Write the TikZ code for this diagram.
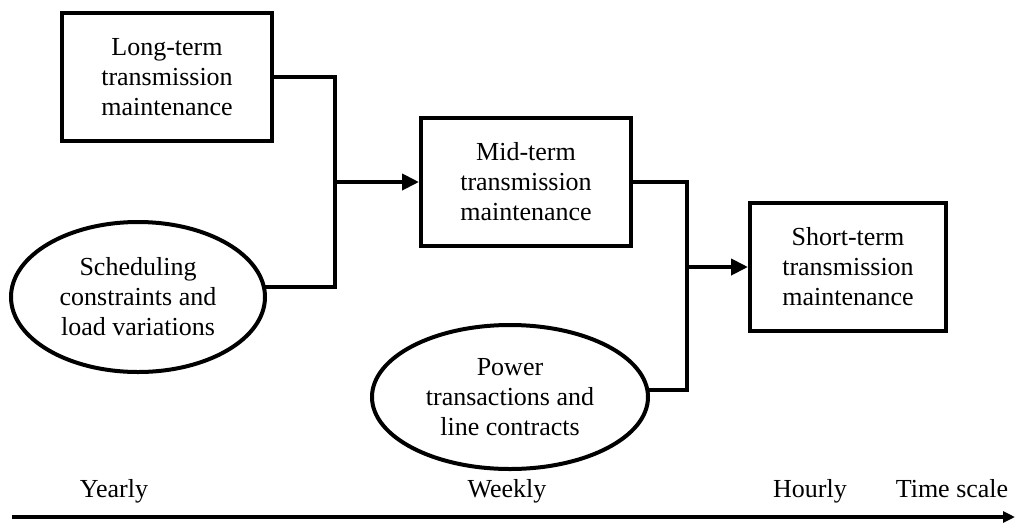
\documentclass[tikz,border=0pt]{standalone}
\usepackage{fontspec}
\setmainfont{Liberation Serif}
\usetikzlibrary{arrows.meta,backgrounds,shapes.geometric}
\begin{document}
\begin{tikzpicture}[x=1pt,y=-1pt,
  every node/.style={font=\fontsize{26}{30}\selectfont},
  stage/.style={draw, rectangle, line width=4pt, align=center, inner sep=0pt,
                minimum height=128pt, fill=white},
  factor/.style={draw, ellipse, line width=4pt, align=center, inner sep=0pt, fill=white},
  link/.style={line width=4pt},
  feed/.style={line width=4pt, -{Triangle[length=17pt,width=16pt]}},
  scalelbl/.style={anchor=base, inner sep=0pt},
]
\useasboundingbox (0,0) rectangle (1015,523);

% planning stages
\node[stage, minimum width=210pt] (long)  at (167,77)  {Long-term\\transmission\\maintenance};
\node[stage, minimum width=210pt] (mid)   at (526,182) {Mid-term\\transmission\\maintenance};
\node[stage, minimum width=196pt] (short) at (848,267) {Short-term\\transmission\\maintenance};

% external inputs
\node[factor, minimum width=254pt, minimum height=150pt] (sched) at (138,297)
  {Scheduling\\constraints and\\load variations};
\node[factor, minimum width=276pt, minimum height=144pt] (power) at (510,397)
  {Power\\transactions and\\line contracts};

% junctions where inputs merge
\coordinate (merge1) at (335,287);
\coordinate (merge2) at (687,390);

\begin{pgfonlayer}{background}
  \draw[link] (long.east) -| (merge1) -- (sched.center |- merge1);
  \draw[link] (mid.east) -| (merge2) -- (power.center |- merge2);
\end{pgfonlayer}

\draw[feed] (mid.west -| merge1) -- (mid.west);
\draw[feed] (short.west -| merge2) -- (short.west);

% time axis
\coordinate (t0) at (12,517);
\coordinate (t1) at (1015,517);
\draw[line width=4pt, -{Triangle[length=12pt,width=11pt]}] (t0) -- (t1);

\node[scalelbl] (yearly) at (114,497) {Yearly};
\node[scalelbl] (weekly) at (507,497) {Weekly};
\node[scalelbl] (hourly) at (810,497) {Hourly};
\node[scalelbl] (tscale) at (952,497) {Time scale};
\end{tikzpicture}
\end{document}
